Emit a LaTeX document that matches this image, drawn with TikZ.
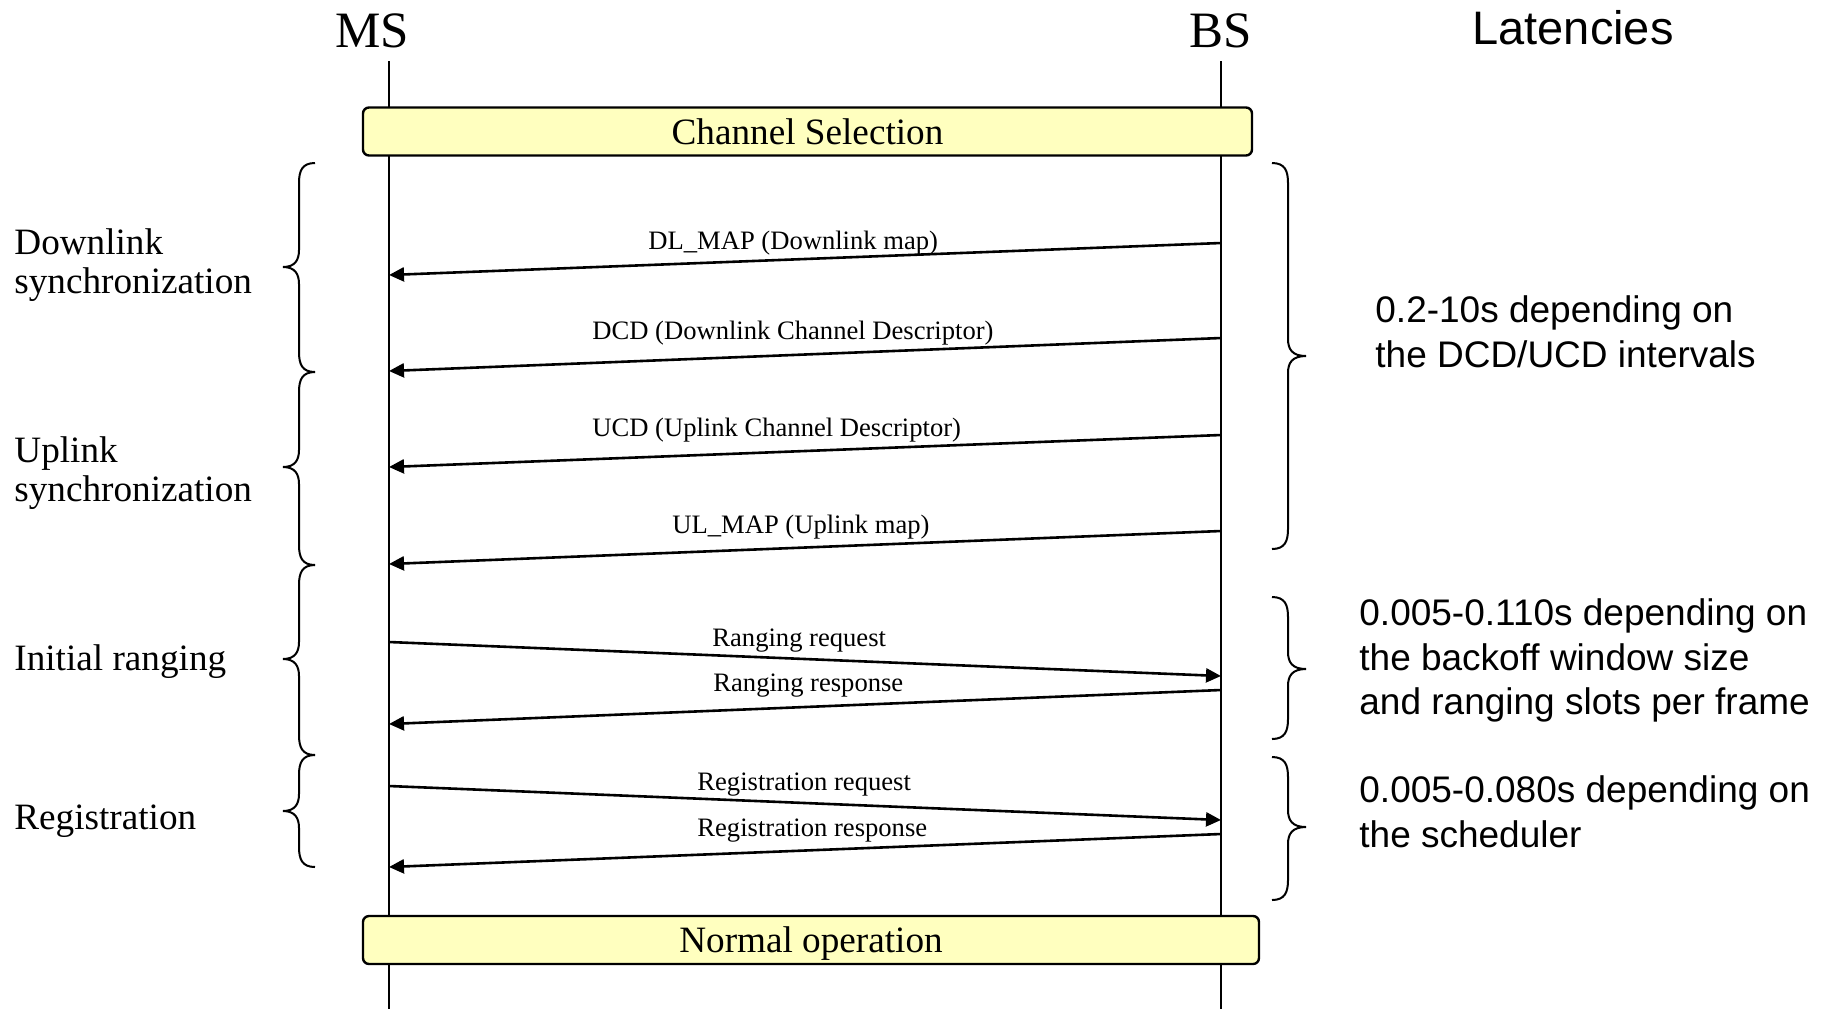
\documentclass[tikz,border=0pt]{standalone}
\usepackage{fontspec}
\setmainfont{Liberation Serif}
\newfontfamily\sansfont{Liberation Sans}
\usetikzlibrary{arrows.meta}
\definecolor{phaseyellow}{RGB}{255,255,191}

% curly brace opening to the right, tip pointing left (top, tip, bottom)
\newcommand\leftbrace[3]{%
  \draw[bracestroke] (315,#1) .. controls (302,#1) and (299,#1+8) .. (299,#1+20)
    -- (299,#2-17) .. controls (299,#2-7) and (295,#2) .. (283,#2)
    .. controls (295,#2) and (299,#2+7) .. (299,#2+17)
    -- (299,#3-20) .. controls (299,#3-8) and (302,#3) .. (315,#3);}
% curly brace opening to the left, tip pointing right (top, tip, bottom)
\newcommand\rightbrace[3]{%
  \draw[bracestroke] (1272,#1) .. controls (1285,#1) and (1288,#1+8) .. (1288,#1+20)
    -- (1288,#2-17) .. controls (1288,#2-7) and (1292,#2) .. (1306,#2)
    .. controls (1292,#2) and (1288,#2+7) .. (1288,#2+17)
    -- (1288,#3-20) .. controls (1288,#3-8) and (1285,#3) .. (1272,#3);}

\begin{document}
\begin{tikzpicture}[x=0.5pt,y=-0.5pt,
  lifeline/.style={line width=1pt},
  msg/.style={line width=1.3pt,-{Triangle[length=7.5pt,width=7pt]}},
  msglabel/.style={anchor=base west,inner sep=0pt,font=\fontsize{13.3}{15}\selectfont},
  phasebox/.style={draw,line width=1.2pt,fill=phaseyellow,rounded corners=3pt,
    inner sep=0pt,minimum height=24pt,font=\fontsize{18.6}{22}\selectfont},
  entity/.style={anchor=base,inner sep=0pt,font=\fontsize{25.5}{30}\selectfont},
  grouplabel/.style={inner sep=0pt,align=left,font=\fontsize{18.6}{19.3}\selectfont},
  latency/.style={anchor=north west,inner sep=0pt,align=left,
    font=\sansfont\fontsize{18.5}{22.3}\selectfont},
  bracestroke/.style={line width=1pt}]

\fill[white] (0,0) rectangle (1830,1009);
\useasboundingbox (0,0) rectangle (1830,1009);

% entities and column heading
\node[entity] (ms) at (372,47) {MS};
\node[entity] (bs) at (1221,47) {BS};
\node[anchor=base,inner sep=0pt,font=\sansfont\fontsize{23.5}{28}\selectfont] (lat) at (1573,44) {Latencies};

% lifelines
\coordinate (msTop) at (389,61);  \coordinate (msBot) at (389,1009);
\coordinate (bsTop) at (1221,61); \coordinate (bsBot) at (1221,1009);
\draw[lifeline] (msTop) -- (msBot);
\draw[lifeline] (bsTop) -- (bsBot);

% phase boxes
\node[phasebox,minimum width=444.5pt] (chsel) at (807.5,131.5) {Channel Selection};
\node[phasebox,minimum width=448pt,text depth=0pt] (normal) at (811,940) {Normal operation};

% message end points on the lifelines
\coordinate (dlmapS) at (1221,243); \coordinate (dlmapE) at (389,275);
\coordinate (dcdS)   at (1221,338); \coordinate (dcdE)   at (389,371);
\coordinate (ucdS)   at (1221,435); \coordinate (ucdE)   at (389,467);
\coordinate (ulmapS) at (1221,531); \coordinate (ulmapE) at (389,564);
\coordinate (rngqS)  at (389,642);  \coordinate (rngqE)  at (1221,676);
\coordinate (rngpS)  at (1221,690); \coordinate (rngpE)  at (389,724);
\coordinate (regqS)  at (389,786);  \coordinate (regqE)  at (1221,820);
\coordinate (regpS)  at (1221,834); \coordinate (regpE)  at (389,867);

% messages
\draw[msg] (dlmapS) -- (dlmapE);
\draw[msg] (dcdS) -- (dcdE);
\draw[msg] (ucdS) -- (ucdE);
\draw[msg] (ulmapS) -- (ulmapE);
\draw[msg] (rngqS) -- (rngqE);
\draw[msg] (rngpS) -- (rngpE);
\draw[msg] (regqS) -- (regqE);
\draw[msg] (regpS) -- (regpE);

% message labels
\node[msglabel] (dlmapL) at (648,249) {DL\_MAP (Downlink map)};
\node[msglabel] (dcdL)   at (592,339) {DCD (Downlink Channel Descriptor)};
\node[msglabel] (ucdL)   at (592,436) {UCD (Uplink Channel Descriptor)};
\node[msglabel] (ulmapL) at (672,533) {UL\_MAP (Uplink map)};
\node[msglabel] (rngqL)  at (712,646) {Ranging request};
\node[msglabel] (rngpL)  at (713,691) {Ranging response};
\node[msglabel] (regqL)  at (697,790) {Registration request};
\node[msglabel] (regpL)  at (697,836) {Registration response};

% procedure phases
\node[grouplabel,anchor=north west] (dlsync) at (14,228.6) {Downlink\\synchronization};
\node[grouplabel,anchor=north west] (ulsync) at (14,436.6) {Uplink\\synchronization};
\node[grouplabel,anchor=base west] (ranging) at (14,670) {Initial ranging};
\node[grouplabel,anchor=base west] (regist) at (14,829) {Registration};

\leftbrace{163}{267}{372}
\leftbrace{372}{467}{565}
\leftbrace{565}{659}{755}
\leftbrace{755}{811}{867}

% latencies
\rightbrace{163}{356}{549}
\rightbrace{597}{669}{739}
\rightbrace{757}{827}{900}

\node[latency] (latsync) at (1375,295.5) {0.2-10s depending on\\the DCD/UCD intervals};
\node[latency] (latrng) at (1359,598.5) {0.005-0.110s depending on\\the backoff window size\\and ranging slots per frame};
\node[latency] (latreg) at (1359,775.5) {0.005-0.080s depending on\\the scheduler};

\end{tikzpicture}
\end{document}
